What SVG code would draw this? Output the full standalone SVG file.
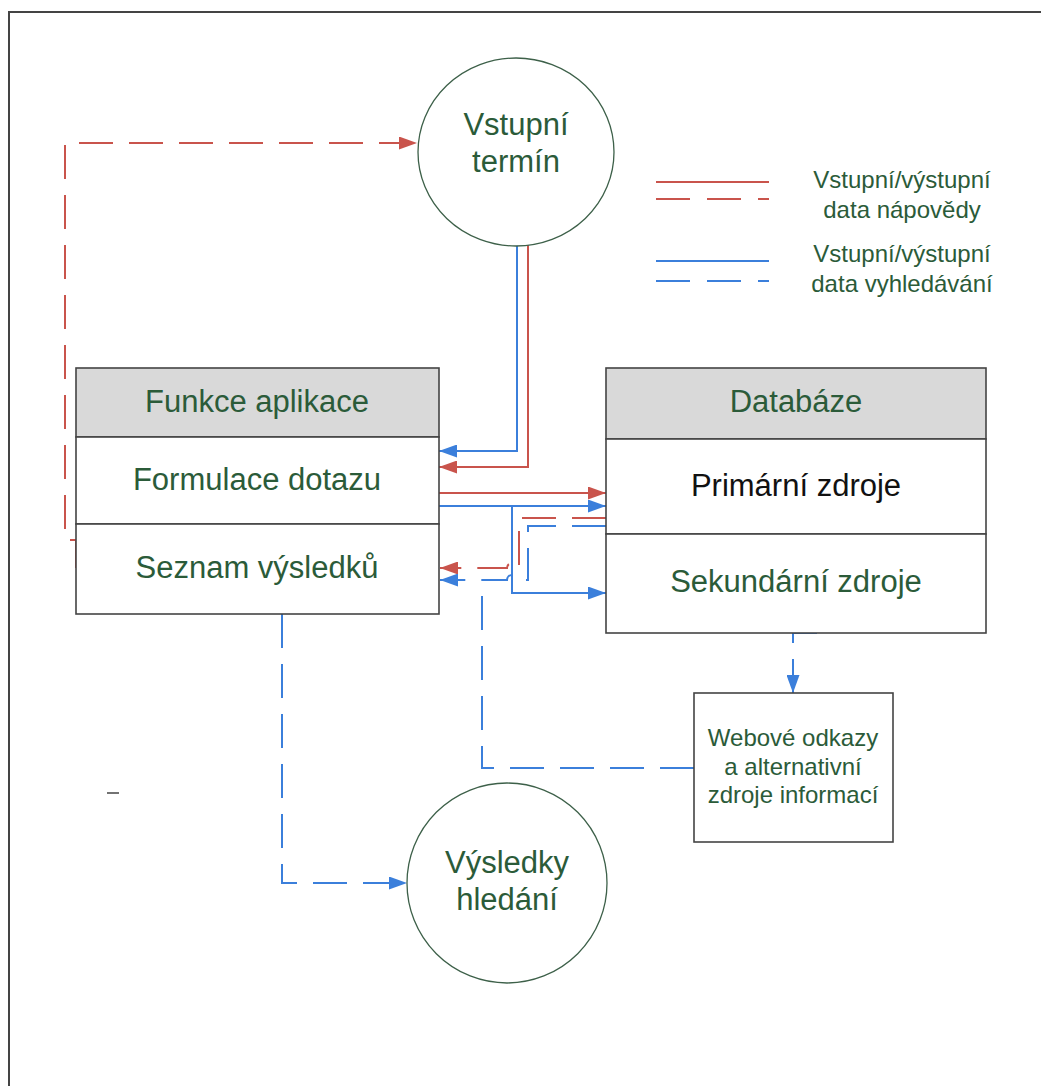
<svg xmlns="http://www.w3.org/2000/svg" width="1041" height="1086" viewBox="0 0 1041 1086">
  <style>
    .t { font-family: "Liberation Sans", Arial, sans-serif; fill: #2b5b39; text-anchor: middle; }
    .big { font-size: 31px; }
    .mid { font-size: 24px; }
    .box { fill: #ffffff; stroke: #444444; stroke-width: 1.6; }
    .hdr { fill: #d9d9d9; stroke: #444444; stroke-width: 1.6; }
    .circ { fill: #ffffff; stroke: #3d6049; stroke-width: 1.3; }
    .red { fill: none; stroke: #c9544c; stroke-width: 2; }
    .blue { fill: none; stroke: #3b7fdb; stroke-width: 2; }
    .dash { stroke-dasharray: 34 16; }
  </style>
  <defs>
    <marker id="ar" markerUnits="userSpaceOnUse" markerWidth="18" markerHeight="13" refX="18" refY="6.5" orient="auto">
      <path d="M0,0 L18,6.5 L0,13 z" fill="#c9544c"/>
    </marker>
    <marker id="ab" markerUnits="userSpaceOnUse" markerWidth="18" markerHeight="13" refX="18" refY="6.5" orient="auto">
      <path d="M0,0 L18,6.5 L0,13 z" fill="#3b7fdb"/>
    </marker>
  </defs>
  <rect x="0" y="0" width="1041" height="1086" fill="#ffffff"/>
  <!-- frame -->
  <path d="M9,1086 L9,12 L1041,12" fill="none" stroke="#444444" stroke-width="2"/>
  <line x1="107" y1="793" x2="119" y2="793" stroke="#444444" stroke-width="1.5"/>

  <g id="connectors">
    <!-- red dashed: Seznam -> Vstupní termín -->
    <path class="red dash" d="M76,568 L76,540 L65,540 L65,143 L417,143" marker-end="url(#ar)"/>
    <!-- from Vstupní termín down -->
    <path class="blue" d="M517,245 L517,451 L439,451" marker-end="url(#ab)"/>
    <path class="red" d="M528,245 L528,467 L439,467" marker-end="url(#ar)"/>
    <!-- Formulace -> Databáze -->
    <path class="red" d="M439,493 L606,493" marker-end="url(#ar)"/>
    <path class="blue" d="M439,506 L606,506" marker-end="url(#ab)"/>
    <path class="blue" d="M512,506 L512,593 L606,593" marker-end="url(#ab)"/>
    <!-- Primární -> Seznam (dashed, with jumps) -->
    <path class="red dash" d="M606,518 L519,518 L519,568 L517,568 A5,5 0 0 0 507,568 L440,568" marker-end="url(#ar)"/>
    <path class="blue dash" d="M606,526 L528,526 L528,580 L517,580 A5,5 0 0 0 507,580 L440,580" marker-end="url(#ab)"/>
    <!-- Webové -> Seznam -->
    <path class="blue dash" d="M694,768 L482,768 L482,580"/>
    <!-- Sekundární -> Webové -->
    <path class="blue dash" d="M817,633 L793,633 L793,693" marker-end="url(#ab)"/>
    <!-- Seznam -> Výsledky hledání -->
    <path class="blue dash" d="M282,614 L282,883 L407,883" marker-end="url(#ab)"/>
  </g>

  <g id="vstupni-termin">
    <ellipse class="circ" cx="516" cy="152" rx="98" ry="94"/>
    <text class="t big" x="516" y="135">Vstupní</text>
    <text class="t big" x="516" y="172">termín</text>
  </g>

  <g id="funkce-aplikace">
    <rect class="hdr" x="76" y="368" width="363" height="69"/>
    <rect class="box" x="76" y="437" width="363" height="87"/>
    <rect class="box" x="76" y="524" width="363" height="90"/>
    <text class="t big" x="257" y="412">Funkce aplikace</text>
    <text class="t big" x="257" y="490">Formulace dotazu</text>
    <text class="t big" x="257" y="578">Seznam výsledků</text>
  </g>

  <g id="databaze">
    <rect class="hdr" x="606" y="368" width="380" height="71"/>
    <rect class="box" x="606" y="439" width="380" height="95"/>
    <rect class="box" x="606" y="534" width="380" height="99"/>
    <text class="t big" x="796" y="412">Databáze</text>
    <text class="t big" x="796" y="496" style="fill:#111111">Primární zdroje</text>
    <text class="t big" x="796" y="592">Sekundární zdroje</text>
  </g>

  <g id="webove-odkazy">
    <rect class="box" x="694" y="693" width="199" height="149"/>
    <text class="t mid" x="793" y="746">Webové odkazy</text>
    <text class="t mid" x="793" y="775">a alternativní</text>
    <text class="t mid" x="793" y="803">zdroje informací</text>
  </g>

  <g id="vysledky-hledani">
    <circle class="circ" cx="507" cy="883" r="100"/>
    <text class="t big" x="507" y="873">Výsledky</text>
    <text class="t big" x="507" y="910">hledání</text>
  </g>

  <g id="legend">
    <line class="red" x1="656" y1="182" x2="769" y2="182"/>
    <line class="red" x1="656" y1="199" x2="769" y2="199" stroke-dasharray="34 17"/>
    <line class="blue" x1="656" y1="261" x2="769" y2="261"/>
    <line class="blue" x1="656" y1="281" x2="769" y2="281" stroke-dasharray="34 17"/>
    <text class="t mid" x="902" y="188">Vstupní/výstupní</text>
    <text class="t mid" x="902" y="218">data nápovědy</text>
    <text class="t mid" x="902" y="262">Vstupní/výstupní</text>
    <text class="t mid" x="902" y="292">data vyhledávání</text>
  </g>
</svg>
